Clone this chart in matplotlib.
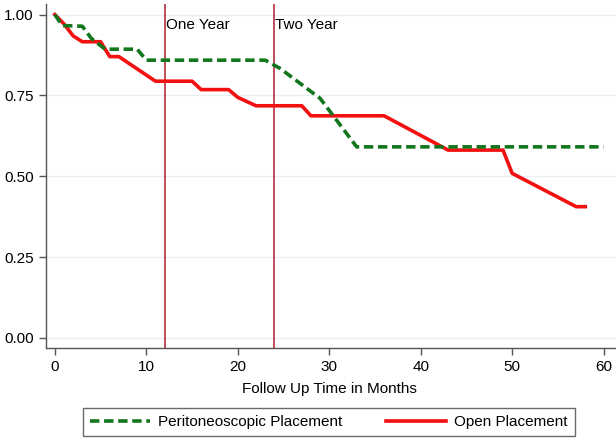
import matplotlib
matplotlib.use('Agg')
import matplotlib.pyplot as plt

plt.rcParams['font.family'] = ['Liberation Sans', 'DejaVu Sans']

# Open placement (red, solid)
open_t = [0, 1, 2, 3, 5, 6, 7, 11, 15, 16, 19, 20, 22, 27, 28, 36, 43, 49, 50, 57, 58]
open_s = [1.0, 0.971, 0.934, 0.916, 0.916, 0.870, 0.870, 0.794, 0.794, 0.768, 0.768,
          0.744, 0.718, 0.718, 0.687, 0.687, 0.581, 0.581, 0.509, 0.406, 0.406]

# Peritoneoscopic placement (green, dashed)
perit_t = [0, 0.8, 3, 4, 5.5, 9, 10, 23, 24.6, 29, 33, 60]
perit_s = [1.0, 0.966, 0.964, 0.926, 0.893, 0.893, 0.859, 0.859, 0.834, 0.741, 0.591, 0.591]

year_marks = [12, 24]
year_labels = ['One Year', 'Two Year']
yticks = [0, 0.25, 0.5, 0.75, 1.0]
xticks = [0, 10, 20, 30, 40, 50, 60]

fig = plt.figure(figsize=(6.16, 4.44), dpi=100)
ax = fig.add_axes([0.0742, 0.2162, 0.925, 0.775])

for y in yticks:
    ax.axhline(y, color='#e6eff4', lw=1.0, zorder=0)

for xm, lab in zip(year_marks, year_labels):
    ax.axvline(xm, color='#b01c30', lw=1.1, zorder=1)
    ax.text(xm + 0.1, 0.955, lab, fontsize=11, va='baseline', ha='left')

ax.plot(perit_t, perit_s, color='#12761c', lw=2.6, dashes=(2.6, 1.3),
        label='Peritoneoscopic Placement', zorder=3)
ax.plot(open_t, open_s, color='#f21010', lw=2.6, label='Open Placement', zorder=2)

ax.set_xlim(-1.0, 61.3)
ax.set_ylim(-0.031, 1.033)
ax.set_xticks(xticks)
ax.set_yticks(yticks)
ax.set_yticklabels(['0.00', '0.25', '0.50', '0.75', '1.00'])
ax.tick_params(labelsize=11, length=5, width=1, color='#555555', direction='out')

for side in ['top', 'right']:
    ax.spines[side].set_visible(False)
for side in ['left', 'bottom']:
    ax.spines[side].set_color('#555555')
    ax.spines[side].set_linewidth(1.0)

fig.text(329 / 616, 1 - 389 / 444, 'Follow Up Time in Months', ha='center', va='center',
         fontsize=11)

handles, labels = ax.get_legend_handles_labels()
leg = fig.legend(handles, labels, ncol=2, loc='center',
                 bbox_to_anchor=(329 / 616, 1 - 422 / 444), fontsize=11,
                 frameon=True, fancybox=False, edgecolor='#444444',
                 handlelength=3.9, handletextpad=0.55, columnspacing=2.85,
                 borderpad=0.45, borderaxespad=0)
leg.get_frame().set_linewidth(1.0)

fig.savefig('out.png', dpi=100, facecolor='white')
